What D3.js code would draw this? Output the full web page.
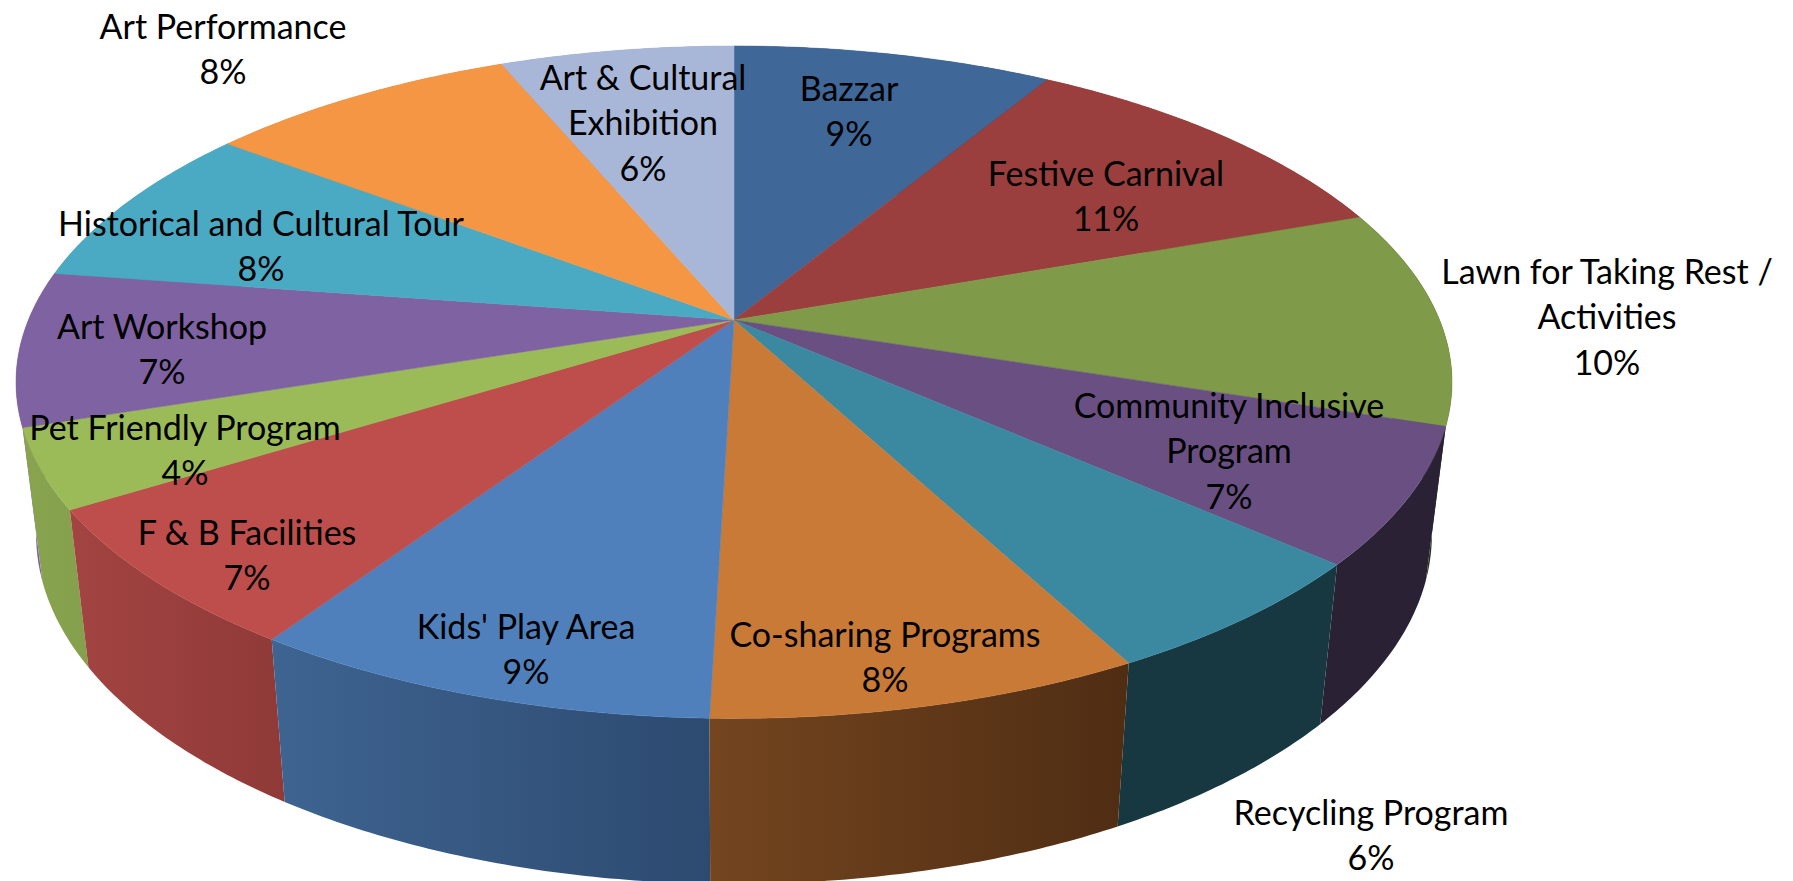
<!DOCTYPE html>
<html>
<head>
<meta charset="utf-8">
<script src="https://cdnjs.cloudflare.com/ajax/libs/d3/7.8.5/d3.min.js"></script>
<style>
  html, body { margin: 0; padding: 0; background: #fff; overflow: hidden; }
  text { font-family: Lato, "Open Sans", sans-serif; fill: #000; }
</style>
</head>
<body>
<div id="chart"></div>
<script>
const categories = [
  "Bazzar", "Festive Carnival", "Lawn for Taking Rest /\nActivities",
  "Community Inclusive\nProgram", "Recycling Program", "Co-sharing Programs",
  "Kids' Play Area", "F & B Facilities", "Pet Friendly Program", "Art Workshop",
  "Historical and Cultural Tour", "Art Performance", "Art & Cultural\nExhibition"
];
// estimated from the slice edges, the labels show them rounded
const shares = [8.6, 10.95, 10.45, 6.5, 5.75, 8.2, 8.9, 6.8, 3.8, 7.4, 7.95, 8.4, 6.3];

const topColors = [
  "#3f6797", "#9a3f3d", "#7f9a48", "#6a5082", "#3a89a0", "#c87a36",
  "#4f80bc", "#bd4e4b", "#9bba58", "#7f62a1", "#4baac3", "#f59645", "#a8b7d7"
];
const sideStart = [
  "#2c4868", "#6b2c2a", "#2d3619", "#2a2134", "#173840", "#74451f",
  "#3e6491", "#a34441", "#89a44f", "#7f62a1", "#3b8a9e", "#c47a38", "#8a97b2"
];
const sideEnd = [
  "#2c4868", "#6b2c2a", "#2d3619", "#2a2134", "#173840", "#4f2d13",
  "#2d4a70", "#8f3a38", "#84a04c", "#7f62a1", "#3b8a9e", "#c47a38", "#8a97b2"
];

// hand placed data labels: centre x, centre y of first line
const labelSpots = [
  [849, 89], [1106, 174], [1607, 272], [1229, 406], [1371, 813], [885, 635], [526, 627],
  [247, 533], [185, 428], [162, 327], [261, 224], [223, 27], [643, 78]
];

const width = 1793, height = 881;
const fontSize = 34, lineStep = 45.5;

// tilted disc: perspective makes the near half bigger
const persp = 0.185;
const rimTop = { cx: 734, cy: 320, rx: 705.6, ry: 324.7 };
const rimBottom = { cx: 734, cy: 470, rx: 705.6 * 0.972, ry: 324.7 * 1.039 };

function project(rim, a) {
  const w = 1 + persp * Math.cos(a);
  return [rim.cx + rim.rx * Math.sin(a) / w, rim.cy - rim.ry * Math.cos(a) / w];
}

function arcPoints(rim, a0, a1) {
  const n = Math.ceil((a1 - a0) / 0.01);
  return d3.range(n + 1).map(i => project(rim, a0 + (a1 - a0) * i / n));
}

const svg = d3.select("#chart").append("svg")
  .attr("width", width)
  .attr("height", height);

const defs = svg.append("defs");
const line = d3.line();

const slices = d3.pie().sort(null)(shares);

// Side walls first, the ones nearest the front last
const sideOrder = d3.range(slices.length).sort((p, q) => {
  const mid = s => Math.abs((s.startAngle + s.endAngle) / 2 - Math.PI);
  return mid(slices[q]) - mid(slices[p]);
});

sideOrder.forEach(i => {
  const s = slices[i];
  const upper = arcPoints(rimTop, s.startAngle, s.endAngle);
  const lower = arcPoints(rimBottom, s.startAngle, s.endAngle).reverse();
  const pts = upper.concat(lower);
  const xs = d3.extent(pts, p => p[0]);

  const grad = defs.append("linearGradient")
    .attr("id", `side-${i}`)
    .attr("gradientUnits", "userSpaceOnUse")
    .attr("x1", xs[0]).attr("x2", xs[1])
    .attr("y1", 0).attr("y2", 0);
  grad.append("stop").attr("offset", 0).attr("stop-color", sideStart[i]);
  grad.append("stop").attr("offset", 1).attr("stop-color", sideEnd[i]);

  svg.append("path")
    .attr("d", line(pts) + "Z")
    .attr("fill", `url(#side-${i})`);
});

// Top of the disc
svg.selectAll(".slice")
  .data(slices)
  .enter()
  .append("path")
  .attr("class", "slice")
  .attr("d", d => line([[rimTop.cx, rimTop.cy], ...arcPoints(rimTop, d.startAngle, d.endAngle)]) + "Z")
  .attr("fill", (d, i) => topColors[i])
  .attr("stroke", (d, i) => topColors[i])
  .attr("stroke-width", 0.5);

// Labels
categories.forEach((name, i) => {
  const lines = name.split("\n").concat(Math.round(shares[i]) + "%");
  const label = svg.append("text")
    .attr("text-anchor", "middle")
    .style("font-size", fontSize + "px");
  lines.forEach((t, j) => {
    label.append("tspan")
      .attr("x", labelSpots[i][0])
      .attr("y", labelSpots[i][1] + j * lineStep)
      .attr("dy", "0.35em")
      .text(t);
  });
});
</script>
</body>
</html>
